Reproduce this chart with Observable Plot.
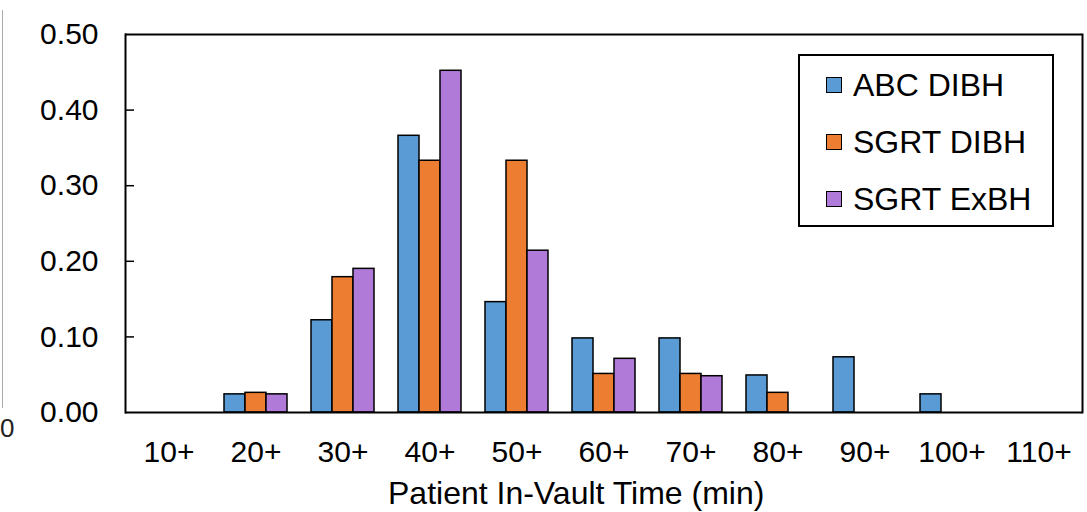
<!DOCTYPE html>
<html><head><meta charset="utf-8">
<script src="https://cdn.jsdelivr.net/npm/d3@7"></script>
<script src="https://cdn.jsdelivr.net/npm/@observablehq/plot@0.6"></script>
<style>
body{margin:0;background:#fff;font-family:"Liberation Sans",Arial,sans-serif;}
#wrap{position:relative;width:1087px;height:512px;overflow:hidden;}
#wrap svg{position:absolute;left:0;top:0;}
.title{position:absolute;left:388px;top:477px;font-size:32px;line-height:1;color:#000;white-space:nowrap;}
.legend{position:absolute;left:798px;top:54px;width:252px;height:169px;border:2px solid #000;background:#fff;}
.legend .row{position:absolute;left:26px;height:32px;display:flex;align-items:center;font-size:32px;line-height:1;white-space:nowrap;}
.legend .sw{width:14px;height:14px;border:1.5px solid #000;margin-right:11px;}
.edge{position:absolute;left:2px;top:10px;width:0;height:398px;border-left:1px solid #aaa;}
.edge0{position:absolute;left:0px;top:415px;font-size:26px;line-height:1;color:#222;}
</style></head><body><div id="wrap"></div>
<script>
const categories = ["10+","20+","30+","40+","50+","60+","70+","80+","90+","100+","110+"];
const seriesNames = ["ABC DIBH","SGRT DIBH","SGRT ExBH"];
const abcDibh  = [0, 0.024, 0.122, 0.366, 0.146, 0.098, 0.098, 0.049, 0.073, 0.024, 0];
const sgrtDibh = [0, 0.026, 0.179, 0.333, 0.333, 0.051, 0.051, 0.026, 0, 0, 0];
const sgrtExbh = [0, 0.024, 0.190, 0.452, 0.214, 0.071, 0.048, 0, 0, 0, 0];
const yTicks = [0, 0.1, 0.2, 0.3, 0.4, 0.5];
const colors = ["#5B9BD5", "#ED7D31", "#AF7AD8"];
const xTitle = "Patient In-Vault Time (min)";

const seriesValues = [abcDibh, sgrtDibh, sgrtExbh];
const rows = [];
categories.forEach((c, i) => seriesNames.forEach((s, j) => {
  const v = seriesValues[j][i];
  if (v > 0) rows.push({cat: c, series: s, value: v});
}));

const chart = Plot.plot({
  width: 1087, height: 512,
  marginLeft: 125, marginRight: 5, marginTop: 34, marginBottom: 100,
  style: {fontFamily: '"Liberation Sans", Arial, sans-serif', background: "transparent", color: "#000"},
  fx: {domain: categories, paddingInner: 0, paddingOuter: 0},
  x: {domain: seriesNames, paddingInner: 0, paddingOuter: 0.5, axis: null},
  y: {domain: [0, 0.5]},
  color: {domain: seriesNames, range: colors},
  marks: [
    Plot.barY(rows, {fx: "cat", x: "series", y: "value", fill: "series", stroke: "#000", strokeWidth: 1.5}),
    Plot.ruleY(categories, {fx: d => d, y: () => 0, stroke: "#000", strokeWidth: 2}),
    Plot.ruleY(categories, {fx: d => d, y: () => 0.5, stroke: "#000", strokeWidth: 2}),
    Plot.frame({anchor: "left", facetAnchor: "left", stroke: "#000", strokeWidth: 2}),
    Plot.frame({anchor: "right", facetAnchor: "right", stroke: "#000", strokeWidth: 2}),
    Plot.tickY(yTicks.slice(1, -1), {y: d => d, facetAnchor: "left", insetRight: 78, stroke: "#000", strokeWidth: 1.5}),
    Plot.axisY({anchor: "left", facetAnchor: "left", ticks: yTicks, tickFormat: d3.format(".2f"),
      tickSize: 0, tickPadding: 27, fontSize: 30, label: null}),
    Plot.axisFx({anchor: "bottom", tickSize: 0, tickPadding: 28, fontSize: 30, label: null})
  ]
});
const wrap = document.getElementById("wrap");
wrap.appendChild(chart);

const t = document.createElement("div");
t.className = "title"; t.textContent = xTitle; wrap.appendChild(t);

const lg = document.createElement("div"); lg.className = "legend";
seriesNames.forEach((s, j) => {
  const r = document.createElement("div"); r.className = "row";
  r.style.top = (13 + j * 57) + "px";
  const sw = document.createElement("div"); sw.className = "sw"; sw.style.background = colors[j];
  const tx = document.createElement("span"); tx.textContent = s;
  r.appendChild(sw); r.appendChild(tx); lg.appendChild(r);
});
wrap.appendChild(lg);

const e = document.createElement("div"); e.className = "edge"; wrap.appendChild(e);
const e0 = document.createElement("div"); e0.className = "edge0"; e0.textContent = "0"; wrap.appendChild(e0);
</script></body></html>
